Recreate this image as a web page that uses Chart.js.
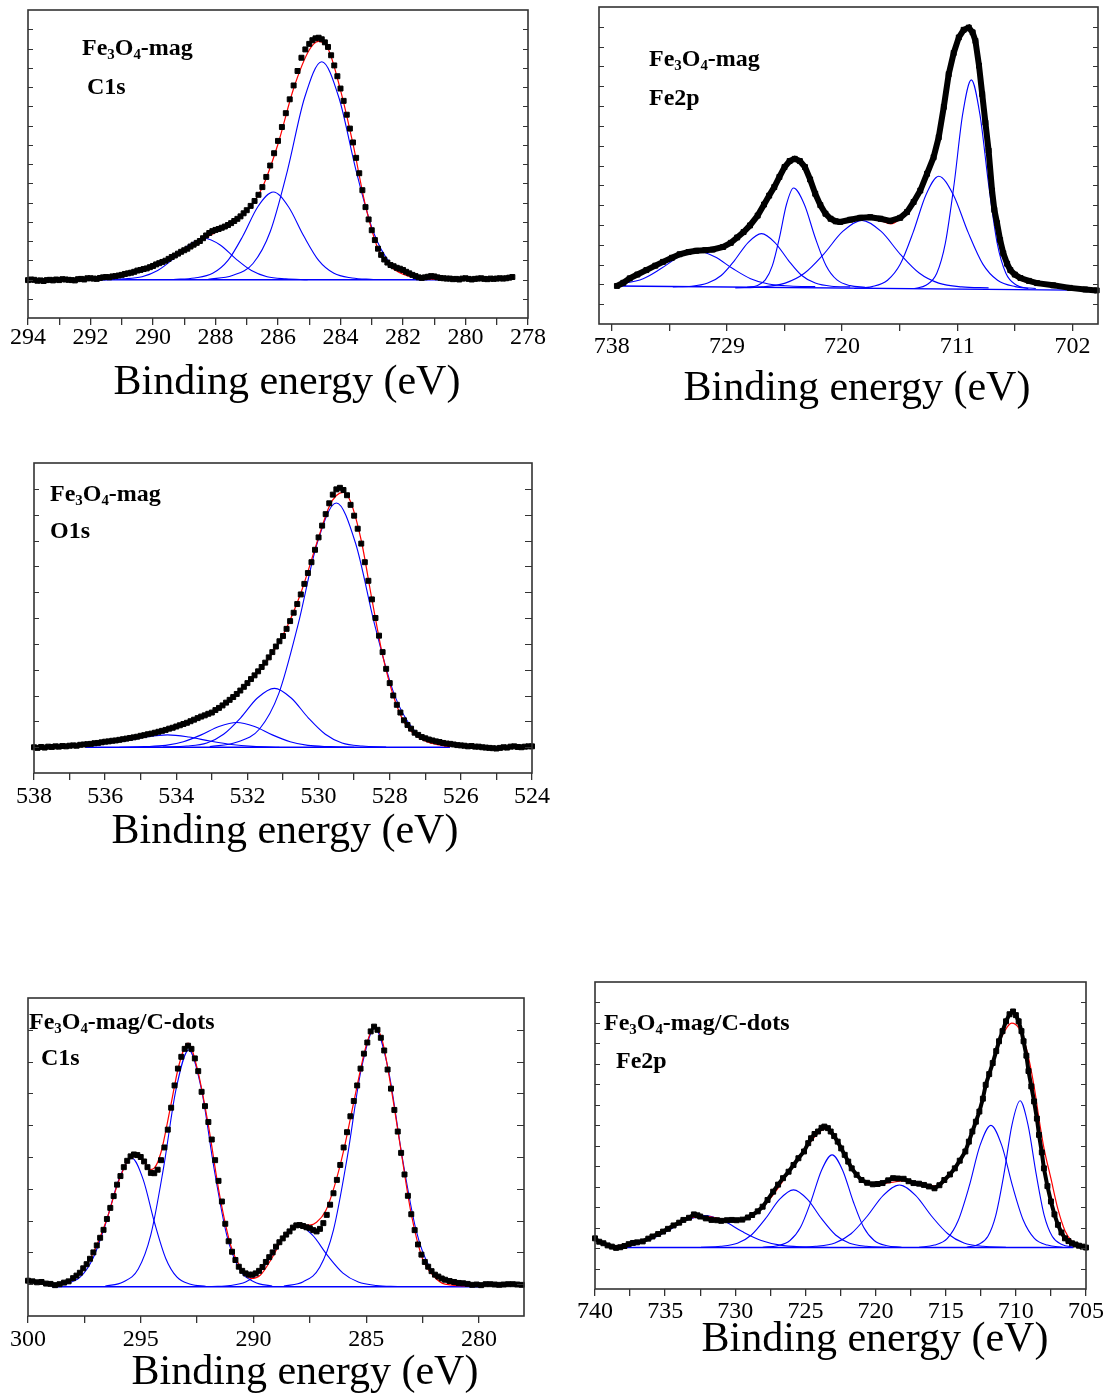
<!DOCTYPE html>
<html>
<head>
<meta charset="utf-8">
<script src="https://cdn.jsdelivr.net/npm/chart.js@4.4.0/dist/chart.umd.min.js"></script>
<style>
body { margin:0; background:#fff; }
#page { position:relative; width:1109px; height:1398px; overflow:hidden; background:#fff; }
#page canvas { position:absolute; }
.lbl { position:absolute; font:bold 24px 'Liberation Serif','Times New Roman',serif; line-height:24px; color:#000; white-space:nowrap; }
.lbl sub { font-size:.62em; vertical-align:baseline; position:relative; top:4px; }
</style>
</head>
<body>
<div id="page">
  <canvas id="magC1s" style="left:0;top:0" width="558" height="403"></canvas>
  <canvas id="magFe2p" style="left:570px;top:0" width="539" height="410"></canvas>
  <canvas id="magO1s" style="left:0;top:450px" width="560" height="403"></canvas>
  <canvas id="dotC1s" style="left:0;top:990px" width="560" height="403"></canvas>
  <canvas id="dotFe2p" style="left:570px;top:975px" width="539" height="385"></canvas>

  <div class="lbl" style="left:82px;top:35px">Fe<sub>3</sub>O<sub>4</sub>-mag</div>
  <div class="lbl" style="left:87px;top:74px">C1s</div>
  <div class="lbl" style="left:649px;top:46px">Fe<sub>3</sub>O<sub>4</sub>-mag</div>
  <div class="lbl" style="left:649px;top:85px">Fe2p</div>
  <div class="lbl" style="left:50px;top:481px">Fe<sub>3</sub>O<sub>4</sub>-mag</div>
  <div class="lbl" style="left:50px;top:518px">O1s</div>
  <div class="lbl" style="left:29px;top:1009px">Fe<sub>3</sub>O<sub>4</sub>-mag/C-dots</div>
  <div class="lbl" style="left:41px;top:1045px">C1s</div>
  <div class="lbl" style="left:604px;top:1010px">Fe<sub>3</sub>O<sub>4</sub>-mag/C-dots</div>
  <div class="lbl" style="left:616px;top:1048px">Fe2p</div>
</div>
<script>
// ---- Fe3O4-mag C1s ----
const magC1sTicks = [294,293,292,291,290,289,288,287,286,285,284,283,282,281,280,279,278];
const magC1sLabels = [294,292,290,288,286,284,282,280,278];
const magC1sData = [[294.0,12.3],[293.9,12.5],[293.8,12.4],[293.7,12.1],[293.6,12.2],[293.5,12.0],[293.4,12.3],[293.3,12.4],[293.2,12.2],[293.1,12.5],[293.0,12.3],[292.9,12.6],[292.8,12.5],[292.7,12.4],[292.6,12.3],[292.5,12.2],[292.4,12.6],[292.3,12.7],[292.2,12.5],[292.1,12.9],[292.0,12.9],[291.9,12.8],[291.8,12.7],[291.7,13.0],[291.6,13.2],[291.5,13.3],[291.4,13.2],[291.3,13.5],[291.2,13.6],[291.1,13.8],[291.0,14.0],[290.9,14.3],[290.8,14.5],[290.7,14.7],[290.6,15.0],[290.5,15.4],[290.4,15.6],[290.3,15.9],[290.2,16.1],[290.1,16.5],[290.0,16.9],[289.9,17.4],[289.8,17.8],[289.7,18.2],[289.6,18.6],[289.5,19.2],[289.4,19.8],[289.3,20.3],[289.2,20.9],[289.1,21.5],[289.0,22.0],[288.9,22.5],[288.8,23.2],[288.7,23.8],[288.6,24.4],[288.5,25.0],[288.4,25.9],[288.3,26.8],[288.2,27.6],[288.1,28.2],[288.0,28.6],[287.9,28.9],[287.8,29.3],[287.7,29.7],[287.6,30.2],[287.5,30.8],[287.4,31.5],[287.3,32.2],[287.2,33.0],[287.1,34.0],[287.0,35.0],[286.875,36.4],[286.75,38.0],[286.625,40.0],[286.5,42.5],[286.375,45.8],[286.25,49.5],[286.125,53.5],[286.0,57.5],[285.875,62.0],[285.75,66.5],[285.625,71.0],[285.5,75.5],[285.375,80.2],[285.25,84.5],[285.125,87.2],[285.0,89.0],[284.9,90.2],[284.8,90.8],[284.7,91.0],[284.6,90.5],[284.5,89.5],[284.4,88.0],[284.3,85.3],[284.2,82.0],[284.1,78.5],[284.0,74.5],[283.9,70.5],[283.8,66.0],[283.7,61.5],[283.6,57.0],[283.5,52.0],[283.4,47.0],[283.3,41.5],[283.2,36.0],[283.1,32.0],[283.0,28.5],[282.9,25.3],[282.8,22.5],[282.7,20.5],[282.6,19.0],[282.5,18.0],[282.4,17.2],[282.3,16.8],[282.2,16.3],[282.1,16.0],[282.0,15.6],[281.9,15.0],[281.8,14.5],[281.7,14.0],[281.6,13.6],[281.5,13.2],[281.4,13.0],[281.3,13.2],[281.2,13.4],[281.1,13.6],[281.0,13.5],[280.9,13.2],[280.8,13.0],[280.7,12.9],[280.6,12.8],[280.5,12.8],[280.4,12.6],[280.3,12.7],[280.2,12.5],[280.1,12.8],[280.0,12.9],[279.9,12.7],[279.8,12.5],[279.7,12.7],[279.6,12.8],[279.5,12.9],[279.4,12.7],[279.3,12.6],[279.2,12.8],[279.1,12.7],[279.0,12.8],[278.9,12.9],[278.8,12.8],[278.7,12.9],[278.6,13.1],[278.5,13.3]];
const magC1sFit = [[292.0,12.6],[291.5,13.1],[291.0,13.9],[290.5,15.2],[290.0,16.9],[289.5,19.3],[289.0,22.1],[288.5,25.0],[288.0,27.8],[287.5,30.6],[287.0,34.8],[286.5,42.4],[286.0,56.5],[285.5,74.5],[285.0,87.0],[284.7,89.8],[284.4,87.5],[284.0,74.0],[283.6,56.5],[283.2,36.5],[282.8,22.5],[282.4,16.8],[282.0,14.2],[281.5,13.0],[280.8,12.5]];
const magC1sBase = [[292.05,12.4],[280.75,12.4]];
const magC1sPeakA = [[288.23,12.6],[287.46,13.8],[286.8,17.7],[286.25,28.0],[285.7,47.8],[285.15,71.5],[284.6,83.2],[284.05,71.5],[283.5,47.8],[282.95,28.0],[282.4,17.7],[281.74,13.8],[280.97,12.6]];
const magC1sPeakB = [[289.35,12.5],[288.67,13.0],[288.09,14.5],[287.6,18.7],[287.12,26.7],[286.64,36.2],[286.15,40.9],[285.67,36.2],[285.18,26.7],[284.7,18.7],[284.21,14.5],[283.63,13.0],[282.95,12.5]];
const magC1sPeakC = [[291.65,12.4],[290.95,12.7],[290.35,13.4],[289.85,15.4],[289.35,19.2],[288.85,23.7],[288.35,25.9],[287.85,23.7],[287.35,19.2],[286.85,15.4],[286.35,13.4],[285.75,12.7],[285.05,12.4]];

// ---- Fe3O4-mag Fe2p ----
const magFeTicks = [738,733.5,729,724.5,720,715.5,711,706.5,702];
const magFeLabels = [738,729,720,711,702];
const magFeData = [[737.6,12.0],[737.1,13.0],[736.6,14.4],[736.0,15.6],[735.3,17.0],[734.6,18.4],[734.0,19.6],[733.3,20.9],[732.7,22.0],[732.0,22.7],[731.4,23.1],[730.7,23.3],[730.1,23.5],[729.3,24.3],[728.7,25.6],[728.2,27.3],[727.7,29.0],[727.2,31.1],[726.6,34.2],[726.1,37.7],[725.7,40.5],[725.3,43.2],[724.9,46.4],[724.5,49.5],[724.1,51.4],[723.7,52.1],[723.3,51.4],[722.9,49.5],[722.5,45.6],[722.1,41.1],[721.7,37.5],[721.3,34.8],[720.9,33.2],[720.5,32.4],[720.15,32.2],[719.37,32.9],[718.58,33.5],[717.8,33.7],[717.0,33.2],[716.24,32.5],[715.46,33.5],[714.93,35.3],[714.41,38.5],[713.89,42.1],[713.36,47.4],[712.85,52.6],[712.45,58.9],[712.05,68.5],[711.67,78.8],[711.28,85.5],[710.88,90.4],[710.5,92.8],[710.1,93.5],[709.8,92.0],[709.58,89.3],[709.3,81.5],[709.05,72.5],[708.8,63.5],[708.55,54.7],[708.28,42.1],[708.1,36.0],[707.89,31.8],[707.65,26.5],[707.4,22.3],[707.1,19.0],[706.85,17.0],[706.5,15.6],[706.06,14.5],[705.4,13.6],[704.76,12.9],[703.5,12.2],[702.2,11.4],[701.0,10.9],[700.1,10.6]];
const magFeFit = [[737.6,12.0],[736.6,14.6],[735.3,17.1],[734.0,19.6],[732.7,21.9],[731.4,23.0],[730.1,23.3],[729.3,24.0],[728.2,27.0],[727.2,30.8],[726.1,37.6],[725.3,43.2],[724.5,49.2],[723.7,51.8],[722.9,49.2],[722.1,41.0],[721.3,34.6],[720.5,32.2],[719.4,32.6],[718.6,33.2],[717.8,33.4],[717.0,32.6],[716.2,31.6],[715.5,33.0],[714.9,35.0],[714.4,38.5],[713.9,42.0],[713.4,47.4],[712.85,52.6],[712.45,58.9],[711.7,78.5],[710.9,90.3],[710.1,93.3],[709.6,89.0],[709.05,72.3],[708.55,54.5],[708.3,42.0],[707.9,31.5],[707.4,21.8],[706.9,16.6],[706.1,14.0],[704.8,12.6],[702.0,11.3]];
const magFeBase = [[737.6,12.0],[702.0,10.7]];
const magFePeak1 = [[737.6,12.4],[735.55,14.3],[734.15,17.5],[732.75,21.2],[731.35,23.1],[729.95,21.2],[728.55,17.5],[727.15,14.3],[725.75,12.6],[724.07,12.0],[722.1,11.8]];
const magFePeak2 = [[733.23,11.7],[731.76,11.9],[730.5,12.9],[729.45,15.3],[728.4,20.1],[727.35,25.7],[726.3,28.5],[725.25,25.7],[724.2,20.1],[723.15,15.3],[722.1,12.9],[720.84,11.9],[719.37,11.7]];
const magFePeak3 = [[727.43,11.6],[726.66,12.1],[726.0,13.9],[725.45,18.4],[724.9,27.2],[724.35,37.7],[723.8,42.9],[722.95,37.7],[722.1,27.2],[721.25,18.4],[720.4,13.9],[719.38,12.1],[718.19,11.6]];
const magFePeak4 = [[728.35,11.4],[726.25,11.7],[724.45,12.9],[722.95,16.0],[721.45,22.0],[719.95,29.2],[718.45,32.7],[716.95,29.2],[715.45,22.0],[713.95,16.0],[712.45,12.9],[710.65,11.7],[708.55,11.4]];
const magFePeak5 = [[719.05,11.2],[717.65,11.8],[716.45,13.8],[715.45,18.9],[714.45,28.9],[713.45,40.7],[712.45,46.6],[711.3,40.7],[710.15,28.9],[709.0,18.9],[707.85,13.8],[706.47,11.8],[704.86,11.2]];
const magFePeak6 = [[714.36,11.2],[713.41,12.3],[712.6,16.0],[711.93,25.5],[711.25,44.0],[710.58,66.1],[709.9,77.0],[709.23,66.1],[708.55,44.0],[707.88,25.5],[707.2,16.0],[706.39,12.3],[705.45,11.2]];

// ---- Fe3O4-mag O1s ----
const magO1sTicks = [538,537,536,535,534,533,532,531,530,529,528,527,526,525,524];
const magO1sLabels = [538,536,534,532,530,528,526,524];
const magO1sData = [[538.0,8.3],[537.9,8.1],[537.8,8.4],[537.7,8.2],[537.6,8.5],[537.5,8.4],[537.4,8.6],[537.3,8.5],[537.2,8.7],[537.1,8.6],[537.0,8.8],[536.9,8.9],[536.8,8.8],[536.7,9.1],[536.6,9.2],[536.5,9.3],[536.4,9.4],[536.3,9.6],[536.2,9.7],[536.1,9.9],[536.0,10.1],[535.9,10.2],[535.8,10.4],[535.7,10.5],[535.6,10.7],[535.5,10.9],[535.4,11.1],[535.3,11.3],[535.2,11.5],[535.1,11.7],[535.0,12.0],[534.9,12.2],[534.8,12.5],[534.7,12.7],[534.6,13.0],[534.5,13.3],[534.4,13.6],[534.3,13.9],[534.2,14.3],[534.1,14.6],[534.0,15.0],[533.9,15.4],[533.8,15.8],[533.7,16.2],[533.6,16.7],[533.5,17.2],[533.4,17.7],[533.3,18.2],[533.2,18.6],[533.1,19.1],[533.0,19.5],[532.9,20.3],[532.8,21.0],[532.7,21.8],[532.6,22.7],[532.5,23.6],[532.4,24.5],[532.3,25.5],[532.2,26.6],[532.1,27.8],[532.0,29.0],[531.9,30.3],[531.8,31.5],[531.7,32.8],[531.6,34.2],[531.5,35.6],[531.4,37.3],[531.3,39.0],[531.2,40.8],[531.1,42.5],[531.0,44.2],[530.9,46.5],[530.8,49.0],[530.7,51.7],[530.6,54.5],[530.5,57.6],[530.4,61.0],[530.3,64.5],[530.2,68.0],[530.1,72.0],[530.0,76.0],[529.9,79.8],[529.8,83.5],[529.7,87.0],[529.6,89.8],[529.5,91.5],[529.4,92.0],[529.3,91.3],[529.2,89.6],[529.1,86.5],[529.0,83.0],[528.9,78.8],[528.8,74.0],[528.7,68.0],[528.6,62.0],[528.5,56.0],[528.4,50.0],[528.3,44.3],[528.2,39.0],[528.1,33.6],[528.0,29.0],[527.9,25.0],[527.8,22.0],[527.7,19.5],[527.6,17.0],[527.5,15.5],[527.4,14.3],[527.3,13.0],[527.2,12.3],[527.1,11.6],[527.0,11.2],[526.9,10.8],[526.8,10.5],[526.7,10.2],[526.6,10.0],[526.5,9.7],[526.4,9.5],[526.3,9.4],[526.2,9.2],[526.1,9.0],[526.0,8.9],[525.9,8.8],[525.8,8.6],[525.7,8.7],[525.6,8.5],[525.5,8.5],[525.4,8.3],[525.3,8.2],[525.2,8.1],[525.1,8.0],[525.0,7.9],[524.9,8.1],[524.8,8.3],[524.7,8.2],[524.6,8.5],[524.5,8.6],[524.4,8.4],[524.3,8.3],[524.2,8.5],[524.1,8.6],[524.0,8.6]];
const magO1sFit = [[536.6,9.2],[535.5,10.8],[534.5,13.3],[533.5,17.4],[533.0,19.8],[532.5,23.8],[532.0,28.8],[531.5,35.2],[531.0,44.5],[530.5,58.0],[530.0,76.0],[529.7,86.0],[529.5,89.5],[529.3,90.5],[529.1,87.5],[528.8,75.0],[528.5,56.0],[528.2,38.0],[527.9,25.0],[527.6,16.5],[527.2,11.5],[526.8,9.5],[526.3,8.5]];
const magO1sBase = [[536.56,8.3],[526.3,8.3]];
const magO1sPeakA = [[533.06,8.5],[532.31,9.9],[531.66,14.2],[531.12,25.6],[530.58,47.7],[530.04,74.1],[529.5,87.1],[528.96,74.1],[528.42,47.7],[527.88,25.6],[527.34,14.2],[526.69,9.9],[525.94,8.5]];
const magO1sPeakB = [[534.38,8.4],[533.71,8.7],[533.14,9.7],[532.67,12.5],[532.19,17.8],[531.72,24.2],[531.24,27.3],[530.77,24.2],[530.29,17.8],[529.81,12.5],[529.34,9.7],[528.77,8.7],[528.1,8.4]];
const magO1sPeakC = [[535.6,8.3],[534.9,8.5],[534.3,8.9],[533.8,10.1],[533.3,12.3],[532.8,15.0],[532.3,16.3],[531.8,15.0],[531.3,12.3],[530.8,10.1],[530.3,8.9],[529.7,8.5],[529.0,8.3]];
const magO1sPeakD = [[536.6,8.6],[536.0,9.5],[535.45,10.3],[534.85,11.6],[534.25,12.3],[533.65,11.6],[533.05,10.3],[532.45,9.2],[531.85,8.6],[531.1,8.3]];

// ---- Fe3O4-mag/C-dots C1s ----
const dotC1sTicks = [300,297.5,295,292.5,290,287.5,285,282.5,280];
const dotC1sLabels = [300,295,290,285,280];
const dotC1sData = [[300.0,11.1],[299.8,10.9],[299.6,10.6],[299.4,10.7],[299.2,10.2],[299.0,10.1],[298.8,9.7],[298.6,10.0],[298.4,10.5],[298.2,10.9],[298.0,11.9],[297.85,12.7],[297.7,13.6],[297.55,15.0],[297.4,16.3],[297.25,18.0],[297.1,20.0],[296.95,22.2],[296.8,24.6],[296.65,27.1],[296.5,30.5],[296.35,34.0],[296.2,37.7],[296.05,41.3],[295.9,44.0],[295.75,46.8],[295.6,48.8],[295.45,50.2],[295.3,50.8],[295.15,50.6],[295.0,50.0],[294.85,48.6],[294.7,46.8],[294.55,45.0],[294.4,44.9],[294.25,46.0],[294.1,49.0],[293.95,53.0],[293.8,58.6],[293.65,65.5],[293.5,72.5],[293.35,77.8],[293.2,81.5],[293.05,84.0],[292.9,85.0],[292.75,84.0],[292.6,81.0],[292.45,77.0],[292.3,70.5],[292.15,66.0],[292.0,61.0],[291.85,55.5],[291.7,49.0],[291.55,42.5],[291.4,36.0],[291.25,29.0],[291.1,23.5],[290.95,20.2],[290.8,17.6],[290.65,15.5],[290.5,14.2],[290.35,13.4],[290.2,13.0],[290.05,13.0],[289.9,13.4],[289.75,14.2],[289.6,15.4],[289.45,17.0],[289.3,18.5],[289.15,20.0],[289.0,21.8],[288.85,23.2],[288.7,24.4],[288.55,25.6],[288.4,26.6],[288.25,27.8],[288.1,28.5],[287.95,28.6],[287.8,28.3],[287.65,27.9],[287.5,27.6],[287.35,27.0],[287.2,26.6],[287.05,27.4],[286.9,29.2],[286.75,31.8],[286.6,35.0],[286.45,38.6],[286.3,42.8],[286.15,47.5],[286.0,53.0],[285.85,57.8],[285.7,62.8],[285.55,67.6],[285.4,72.5],[285.25,77.8],[285.1,82.5],[284.95,86.0],[284.8,89.5],[284.65,91.0],[284.5,90.0],[284.35,87.5],[284.2,83.5],[284.05,77.5],[283.9,71.5],[283.75,64.8],[283.6,58.0],[283.45,51.3],[283.3,44.5],[283.15,37.8],[283.0,32.0],[282.85,27.0],[282.7,22.5],[282.55,19.3],[282.4,17.0],[282.25,15.5],[282.1,14.1],[281.95,13.0],[281.8,12.4],[281.65,11.8],[281.5,11.4],[281.3,11.0],[281.1,10.7],[280.9,10.4],[280.7,10.3],[280.5,10.1],[280.3,9.8],[280.1,9.9],[279.9,9.7],[279.7,10.0],[279.5,10.0],[279.3,9.9],[279.1,9.8],[278.9,9.9],[278.7,10.0],[278.5,10.0],[278.3,9.9],[278.1,9.8]];
const dotC1sFit = [[298.9,9.8],[298.0,11.5],[297.5,15.0],[297.0,21.5],[296.5,30.5],[296.0,42.0],[295.5,49.5],[295.2,50.2],[294.9,49.0],[294.6,46.0],[294.4,46.5],[294.1,51.5],[293.7,65.0],[293.3,79.0],[292.9,85.8],[292.5,78.0],[292.0,60.0],[291.5,38.0],[291.0,22.0],[290.5,14.5],[290.1,11.8],[289.7,12.8],[289.2,18.0],[288.6,25.5],[288.0,28.5],[287.5,28.6],[287.2,29.5],[286.8,33.0],[286.4,41.0],[286.0,52.0],[285.5,69.0],[285.0,85.0],[284.65,90.8],[284.3,87.0],[283.9,72.0],[283.5,54.0],[283.0,32.0],[282.5,18.0],[282.0,12.5],[281.5,10.0],[280.0,9.3]];
const dotC1sBase = [[298.94,9.2],[279.92,9.2]];
const dotC1sPeakA = [[298.94,9.4],[298.38,10.0],[297.69,12.2],[297.12,18.1],[296.54,29.4],[295.97,42.9],[295.39,49.6],[294.89,42.9],[294.39,29.4],[293.89,18.1],[293.39,12.2],[292.79,10.0],[292.09,9.3]];
const dotC1sPeakB = [[296.57,9.4],[295.78,10.7],[295.11,14.8],[294.55,25.6],[293.99,46.5],[293.43,71.4],[292.87,83.7],[292.31,71.4],[291.75,46.5],[291.19,25.6],[290.63,14.8],[289.96,10.7],[289.17,9.4]];
const dotC1sPeakC = [[291.85,9.3],[291.04,9.6],[290.35,10.7],[289.78,13.5],[289.2,18.9],[288.63,25.4],[288.05,28.6],[287.38,25.4],[286.7,18.9],[286.03,13.5],[285.35,10.7],[284.54,9.6],[283.6,9.3]];
const dotC1sPeakD = [[288.65,9.4],[287.79,10.8],[287.06,15.3],[286.45,27.1],[285.84,49.9],[285.23,77.2],[284.62,90.6],[284.01,77.2],[283.4,49.9],[282.79,27.1],[282.18,15.3],[281.45,10.8],[280.59,9.4]];

// ---- Fe3O4-mag/C-dots Fe2p ----
const dotFeTicks = [740,737.5,735,732.5,730,727.5,725,722.5,720,717.5,715,712.5,710,707.5,705];
const dotFeLabels = [740,735,730,725,720,715,710,705];
const dotFeData = [[740.0,16.5],[739.7,15.4],[739.4,14.9],[739.1,14.2],[738.8,13.8],[738.5,13.4],[738.2,13.6],[737.9,14.0],[737.6,14.6],[737.3,15.0],[737.0,15.2],[736.6,15.5],[736.2,16.4],[735.9,17.1],[735.5,17.9],[735.15,18.7],[734.8,19.6],[734.4,20.7],[734.0,21.6],[733.7,22.5],[733.3,23.2],[732.95,24.3],[732.7,24.0],[732.5,23.6],[732.1,23.0],[731.7,22.5],[731.3,22.4],[731.0,22.2],[730.6,22.4],[730.25,22.5],[729.9,22.4],[729.5,22.6],[729.1,23.3],[728.8,24.1],[728.4,25.3],[728.05,26.8],[727.7,29.0],[727.3,31.7],[726.95,34.0],[726.6,36.1],[726.2,38.2],[725.85,40.4],[725.5,42.6],[725.1,44.8],[724.8,47.5],[724.6,49.1],[724.35,50.5],[724.1,51.3],[723.85,52.5],[723.65,52.9],[723.4,52.4],[723.2,51.3],[722.95,49.8],[722.7,48.0],[722.45,45.8],[722.2,43.7],[721.95,41.5],[721.7,39.3],[721.35,37.2],[721.0,35.5],[720.6,34.6],[720.2,34.1],[719.85,34.2],[719.5,34.5],[719.1,35.4],[718.75,36.1],[718.4,36.0],[718.0,35.9],[717.65,35.1],[717.3,34.5],[716.9,34.3],[716.55,33.9],[716.2,33.4],[715.8,32.8],[715.45,33.8],[715.1,35.5],[714.7,37.3],[714.35,39.3],[714.0,41.8],[713.6,44.8],[713.35,48.0],[713.1,51.3],[712.85,54.5],[712.6,57.8],[712.35,62.0],[712.15,66.5],[711.9,70.0],[711.65,73.6],[711.4,77.5],[711.2,80.7],[710.95,84.0],[710.7,87.2],[710.45,89.5],[710.2,90.4],[710.0,89.2],[709.8,87.2],[709.6,84.0],[709.45,80.7],[709.25,76.0],[709.1,71.0],[708.9,66.0],[708.7,61.1],[708.5,55.5],[708.35,50.2],[708.15,44.5],[708.0,39.3],[707.75,33.5],[707.5,28.5],[707.25,24.3],[707.0,20.9],[706.75,18.4],[706.5,16.5],[706.25,15.6],[706.0,14.9],[705.75,14.5],[705.5,14.1],[705.25,13.8],[705.0,13.5]];
const dotFeFit = [[738.8,13.8],[737.5,14.8],[736.0,16.6],[734.5,20.2],[733.0,23.3],[732.0,23.6],[731.0,22.8],[730.0,22.6],[729.0,23.5],[728.0,26.8],[727.0,32.5],[726.0,39.4],[725.0,45.6],[724.0,51.2],[723.5,52.2],[723.0,50.6],[722.2,44.2],[721.5,38.4],[720.8,35.2],[720.0,34.0],[719.0,34.6],[718.0,35.2],[717.0,34.6],[716.0,33.6],[715.3,34.2],[714.5,38.2],[713.8,43.5],[713.0,52.5],[712.2,65.5],[711.5,76.5],[710.8,84.0],[710.3,86.6],[709.8,85.0],[709.2,77.5],[708.7,66.0],[708.3,54.0],[708.0,46.0],[707.5,36.0],[707.0,26.0],[706.5,19.0],[706.0,15.5],[705.5,14.0]];
const dotFeBase = [[738.8,13.5],[705.9,13.5]];
const dotFePeak1 = [[738.8,13.8],[736.25,15.8],[734.9,18.7],[733.55,22.2],[732.2,23.9],[730.85,22.2],[729.5,18.7],[728.15,15.8],[726.8,14.3],[725.18,13.7],[723.3,13.5]];
const dotFePeak2 = [[732.45,13.6],[731.05,13.9],[729.85,14.9],[728.85,17.6],[727.85,22.9],[726.85,29.2],[725.85,32.3],[724.85,29.2],[723.85,22.9],[722.85,17.6],[721.85,14.9],[720.65,13.9],[719.25,13.6]];
const dotFePeak3 = [[728.05,13.6],[727.0,14.1],[726.1,15.8],[725.35,20.1],[724.6,28.6],[723.85,38.7],[723.1,43.7],[722.35,38.7],[721.6,28.6],[720.85,20.1],[720.1,15.8],[719.2,14.1],[718.15,13.6]];
const dotFePeak4 = [[725.89,13.6],[724.28,13.9],[722.9,15.0],[721.75,18.0],[720.6,23.7],[719.45,30.5],[718.3,33.9],[717.15,30.5],[716.0,23.7],[714.85,18.0],[713.7,15.0],[712.32,13.9],[710.71,13.6]];
const dotFePeak5 = [[716.9,13.6],[715.81,14.3],[714.88,16.5],[714.11,22.3],[713.33,33.4],[712.56,46.7],[711.78,53.3],[711.0,46.7],[710.23,33.4],[709.46,22.3],[708.68,16.5],[707.75,14.3],[706.67,13.6]];
const dotFePeak6 = [[713.5,13.6],[712.69,14.5],[712.0,17.1],[711.43,24.0],[710.85,37.4],[710.28,53.4],[709.7,61.3],[709.13,53.4],[708.55,37.4],[707.98,24.0],[707.4,17.1],[706.71,14.5],[705.9,13.6]];

const SERIF = "'Liberation Serif','Times New Roman',serif";

// box frame, inner y ticks and the axis title
const framePlugin = {
    id: 'frame',
    afterDraw(chart, args, o) {
        const {ctx, chartArea: a, scales: {y}} = chart;
        ctx.save();
        ctx.strokeStyle = '#333';
        ctx.lineWidth = 1.6;
        ctx.strokeRect(a.left, a.top, a.right - a.left, a.bottom - a.top);
        ctx.lineWidth = 1;
        for (let v = o.step; v < 99.9; v += o.step) {
            const py = Math.round(y.getPixelForValue(v)) + 0.5;
            ctx.beginPath();
            ctx.moveTo(a.left, py); ctx.lineTo(a.left + o.lenL, py);
            ctx.moveTo(a.right, py); ctx.lineTo(a.right - o.lenR, py);
            ctx.stroke();
        }
        ctx.fillStyle = '#000';
        ctx.font = '42px ' + SERIF;
        ctx.textAlign = 'center';
        ctx.textBaseline = 'middle';
        ctx.fillText('Binding energy (eV)', o.titleX, o.titleY);
        ctx.restore();
    }
};

function panel(id, p) {
    const datasets = [
        { data: p.data, showLine: !!p.band, borderColor: '#000', borderWidth: p.band || 0,
          pointStyle: 'rect', pointRadius: 3.5, pointBackgroundColor: '#000',
          pointBorderColor: '#000', pointBorderWidth: 1, clip: 4 },
        { data: p.fit, showLine: true, borderColor: '#ff0000', borderWidth: 1.2,
          pointRadius: 0, cubicInterpolationMode: 'monotone' }
    ];
    p.peaks.forEach(pk => datasets.push({ data: pk, showLine: true, borderColor: '#0000ff',
        borderWidth: 1.1, pointRadius: 0, cubicInterpolationMode: 'monotone' }));
    datasets.push({ data: p.base, showLine: true, borderColor: '#0000ff', borderWidth: 1.4, pointRadius: 0 });

    new Chart(document.getElementById(id), {
        type: 'scatter',
        data: { datasets },
        options: {
            responsive: false, animation: false, devicePixelRatio: 1,
            layout: { padding: p.pad },
            plugins: { legend: { display: false }, tooltip: { enabled: false }, frame: p.frame },
            scales: {
                x: {
                    type: 'linear', reverse: true, min: p.min, max: p.max,
                    afterBuildTicks: s => { s.ticks = p.ticks.map(v => ({ value: v })); },
                    afterFit: s => { s.height = p.axisH; },
                    ticks: { autoSkip: false, maxRotation: 0, padding: p.lblPad, color: '#000',
                             font: { family: SERIF, size: 24, lineHeight: 1 },
                             callback: v => p.labels.includes(v) ? String(v) : '' },
                    grid: { drawOnChartArea: false, drawTicks: true, tickLength: 7, color: '#333', lineWidth: 1.3 },
                    border: { display: false }
                },
                y: { display: false, min: 0, max: 100 }
            }
        },
        plugins: [framePlugin]
    });
}

panel('magC1s', {
    data: magC1sData, fit: magC1sFit, base: magC1sBase,
    peaks: [magC1sPeakA, magC1sPeakB, magC1sPeakC],
    ticks: magC1sTicks, labels: magC1sLabels, min: 278, max: 294,
    pad: { left: 28, top: 10, right: 30, bottom: 0 }, axisH: 85, lblPad: 1,
    frame: { step: 6.25, lenL: 5, lenR: 5, titleX: 287, titleY: 383 }
});
panel('magFe2p', {
    data: magFeData, fit: magFeFit, base: magFeBase, band: 6,
    peaks: [magFePeak1, magFePeak2, magFePeak3, magFePeak4, magFePeak5, magFePeak6],
    ticks: magFeTicks, labels: magFeLabels, min: 700, max: 739,
    pad: { left: 29, top: 7, right: 11, bottom: 0 }, axisH: 86, lblPad: 4,
    frame: { step: 6.25, lenL: 5, lenR: 5, titleX: 287, titleY: 389 }
});
panel('magO1s', {
    data: magO1sData, fit: magO1sFit, base: magO1sBase,
    peaks: [magO1sPeakA, magO1sPeakB, magO1sPeakC, magO1sPeakD],
    ticks: magO1sTicks, labels: magO1sLabels, min: 524, max: 538,
    pad: { left: 34, top: 13, right: 28, bottom: 0 }, axisH: 80, lblPad: 5,
    frame: { step: 100 / 12, lenL: 5, lenR: 7, titleX: 285, titleY: 382 }
});
panel('dotC1s', {
    data: dotC1sData, fit: dotC1sFit, base: dotC1sBase,
    peaks: [dotC1sPeakA, dotC1sPeakB, dotC1sPeakC, dotC1sPeakD],
    ticks: dotC1sTicks, labels: dotC1sLabels, min: 278, max: 300,
    pad: { left: 28, top: 8, right: 36, bottom: 0 }, axisH: 77, lblPad: 5,
    frame: { step: 10, lenL: 5, lenR: 7, titleX: 305, titleY: 383 }
});
panel('dotFe2p', {
    data: dotFeData, fit: dotFeFit, base: dotFeBase, band: 4,
    peaks: [dotFePeak1, dotFePeak2, dotFePeak3, dotFePeak4, dotFePeak5, dotFePeak6],
    ticks: dotFeTicks, labels: dotFeLabels, min: 705, max: 740,
    pad: { left: 25, top: 7, right: 23, bottom: 0 }, axisH: 71, lblPad: 4,
    frame: { step: 100 / 15, lenL: 5, lenR: 5, titleX: 305, titleY: 365 }
});
</script>
</body>
</html>
